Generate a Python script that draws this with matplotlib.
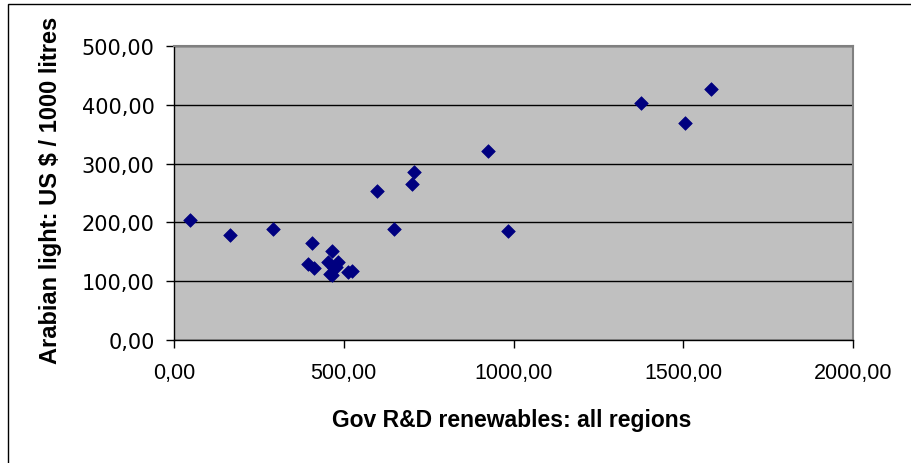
import matplotlib
matplotlib.use("Agg")
import matplotlib.pyplot as plt
from matplotlib.ticker import FuncFormatter
from matplotlib.patches import Rectangle

# Data
gov_rd = [47, 165, 291, 396, 413, 407, 453, 466, 484, 459, 470, 465, 478,
          512, 525, 597, 649, 702, 708, 925, 985, 1375, 1504, 1581]
arabian_light = [204, 179, 189, 130, 123, 165, 133, 152, 133, 113, 122, 110, 125,
                 115, 117, 253, 189, 266, 285, 321, 185, 403, 369, 427]
x_ticks = [0, 500, 1000, 1500, 2000]
y_ticks = [0, 100, 200, 300, 400, 500]
x_label = "Gov R&D renewables: all regions"
y_label = "Arabian light: US $ / 1000 litres"

plt.rcParams['font.family'] = ['Liberation Sans', 'DejaVu Sans']

W, H = 911, 464
fig = plt.figure(figsize=(W / 100, H / 100), dpi=100)

# outer chart border
fig.patches.append(Rectangle((8 / W, -0.05), (W + 20) / W, 1 - 5 / H + 0.05,
                             transform=fig.transFigure, fill=False,
                             edgecolor='black', linewidth=1.0))

left, right, top, bottom = 174, 853, 47, 341
ax = fig.add_axes([left / W, 1 - bottom / H, (right - left) / W, (bottom - top) / H])
ax.set_facecolor('#C0C0C0')

ax.scatter(gov_rd, arabian_light, marker='D', s=48, color='#000080',
           edgecolors='#000080', linewidths=0.5, zorder=3, clip_on=False)

ax.set_xlim(0, 2000)
ax.set_ylim(0, 500)
ax.set_xticks(x_ticks)
ax.set_yticks(y_ticks)
fmt = FuncFormatter(lambda v, p: f"{v:.2f}".replace('.', ','))
ax.xaxis.set_major_formatter(fmt)
ax.yaxis.set_major_formatter(fmt)
ax.grid(axis='y', color='black', linewidth=1.0, zorder=1)
ax.set_axisbelow(True)

for s in ['top', 'right']:
    ax.spines[s].set_color('#808080')
    ax.spines[s].set_linewidth(1.5)
for s in ['left', 'bottom']:
    ax.spines[s].set_color('black')
    ax.spines[s].set_linewidth(1.0)

ax.tick_params(axis='both', direction='out', length=6, width=1, color='black',
               labelcolor='black')
ax.tick_params(axis='x', pad=10)
ax.tick_params(axis='y', pad=8)
for lbl in ax.get_xticklabels():
    lbl.set_fontsize(15.5)
for lbl in ax.get_yticklabels():
    lbl.set_family(['DejaVu Sans'])
    lbl.set_fontsize(15)

fig.text(512 / W, 1 - 427 / H, x_label, ha='center', va='baseline',
         fontsize=16.5, fontweight='bold')
fig.text(51 / W, 1 - 364 / H, y_label, ha='center', va='bottom', rotation=90,
         fontsize=17, fontweight='bold')

fig.savefig('out.png', dpi=100)
